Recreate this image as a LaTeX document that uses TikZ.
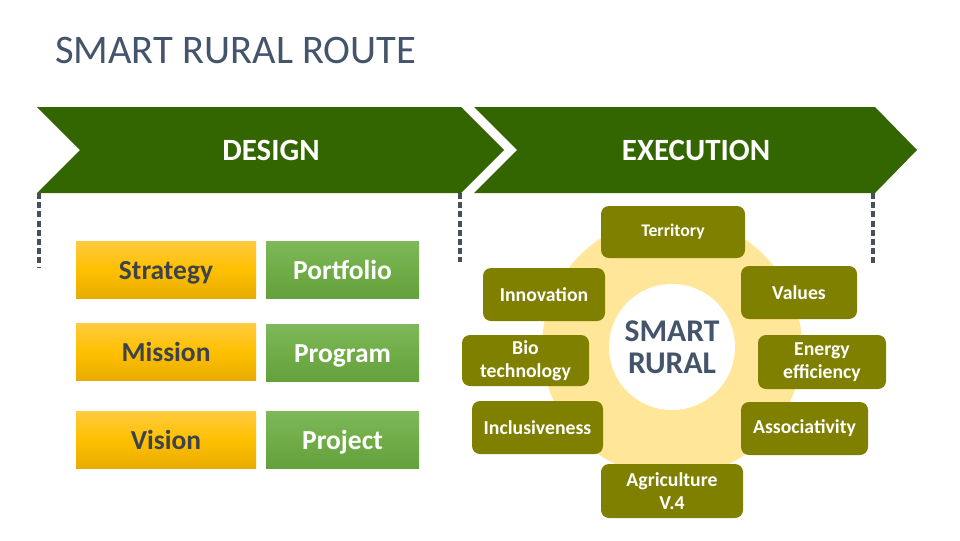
\documentclass[tikz,border=0pt]{standalone}
\usepackage{fontspec}
\setmainfont{Carlito}
\usetikzlibrary{positioning}
\definecolor{chevgreen}{RGB}{51,102,0}
\definecolor{olive}{RGB}{128,128,0}
\definecolor{ringyellow}{RGB}{255,230,153}
\definecolor{titlegray}{RGB}{68,84,106}
\definecolor{dashgray}{RGB}{72,78,90}
\definecolor{boxtext}{RGB}{62,66,74}
\definecolor{yeltop}{RGB}{255,202,64}
\definecolor{yelmid}{RGB}{255,192,0}
\definecolor{yelbot}{RGB}{232,172,0}
\definecolor{grtop}{RGB}{126,184,90}
\definecolor{grmid}{RGB}{112,173,71}
\definecolor{grbot}{RGB}{100,160,60}
\tikzset{
  chevron/.style={fill=chevgreen,draw=none},
  chevtext/.style={text=white,font=\bfseries\fontsize{23.2}{28}\selectfont},
  dashline/.style={draw=dashgray,line width=2.4pt,dash pattern=on 4.5pt off 2.4pt},
  yelbox/.style={minimum width=135pt,minimum height=42.75pt,inner sep=0pt,
    text height=14.5pt,text depth=0pt,
    top color=yeltop,bottom color=yelbot,middle color=yelmid,
    text=boxtext,font=\bfseries\fontsize{20.6}{24}\selectfont},
  grbox/.style={minimum width=114.75pt,minimum height=42.75pt,inner sep=0pt,
    text height=14.5pt,text depth=0pt,
    top color=grtop,bottom color=grbot,middle color=grmid,
    text=white,font=\bfseries\fontsize{20.6}{24}\selectfont},
  olbox/.style={fill=olive,rounded corners=6pt,inner sep=0pt,align=center,
    text=white,font=\bfseries\fontsize{14.8}{17.5}\selectfont},
}
\begin{document}
\begin{tikzpicture}[x=0.75pt,y=-0.75pt]
\useasboundingbox (0,0) rectangle (960,540);
\fill[white] (0,0) rectangle (960,540);
% title
\node[anchor=base west,inner sep=0pt,text=titlegray,font=\fontsize{30.4}{36}\selectfont] (title) at (55,63) {SMART RURAL ROUTE};
% chevrons
\coordinate (dtl) at (37,107);
\coordinate (dbl) at (37,193);
\coordinate (dtr) at (461,107);
\coordinate (dbr) at (461,193);
\coordinate (etl) at (474,107);
\coordinate (ebl) at (474,193);
\coordinate (etr) at (875,107);
\coordinate (ebr) at (875,193);
\path[chevron] (dtl) -- (dtr) -- (504,150) -- (dbr) -- (dbl) -- (80,150) -- cycle;
\path[chevron] (etl) -- (etr) -- (917,150) -- (ebr) -- (ebl) -- (517,150) -- cycle;
\node[chevtext] (design) at (271,150) {DESIGN};
\node[chevtext] (execution) at (696,150) {EXECUTION};
% dashed lines
\coordinate (u1) at (39,193);
\coordinate (u2) at (460,193);
\coordinate (u3) at (873,193);
\coordinate (d1) at (39,268);
\coordinate (d2) at (460,262);
\coordinate (d3) at (873,264);
\draw[dashline] (u1) -- (d1);
\draw[dashline] (u2) -- (d2);
\draw[dashline] (u3) -- (d3);
% left boxes
\node[yelbox] (strategy) at (166,269.5) {Strategy};
\node[yelbox] (mission) at (166,351.5) {Mission};
\node[yelbox] (vision) at (166,439.5) {Vision};
\node[grbox] (portfolio) at (342.5,269.5) {Portfolio};
\node[grbox] (program) at (342.5,353) {Program};
\node[grbox] (project) at (342.5,439.5) {Project};
% ring
\fill[ringyellow] (672,347) circle[radius=130];
\node[circle,fill=white,minimum size=94.5pt,inner sep=0pt,align=center,text=titlegray,
  font=\bfseries\fontsize{23.7}{24}\selectfont] (smart) at (672,347) {SMART\\RURAL};
% olive boxes
\node[olbox,minimum width=108pt,minimum height=39pt,font=\bfseries\fontsize{13.3}{16}\selectfont] (territory) at (673,232) {Territory};
\node[olbox,minimum width=91.5pt,minimum height=39.75pt] (innovation) at (544,294.5) {Innovation};
\node[olbox,minimum width=87pt,minimum height=39.75pt] (values) at (799,292.5) {Values};
\node[olbox,minimum width=95.25pt,minimum height=38.25pt] (bio) at (525.5,360.5) {Bio\\technology};
\node[olbox,minimum width=96pt,minimum height=40.5pt] (energy) at (822,362) {Energy\\efficiency};
\node[olbox,minimum width=98.25pt,minimum height=39.75pt] (inclusiveness) at (537.5,427.5) {Inclusiveness};
\node[olbox,minimum width=95.25pt,minimum height=39.75pt] (associativity) at (804.5,428.5) {Associativity};
\node[olbox,minimum width=106.5pt,minimum height=40.5pt] (agriculture) at (672,491) {Agriculture\\V.4};
\end{tikzpicture}
\end{document}
